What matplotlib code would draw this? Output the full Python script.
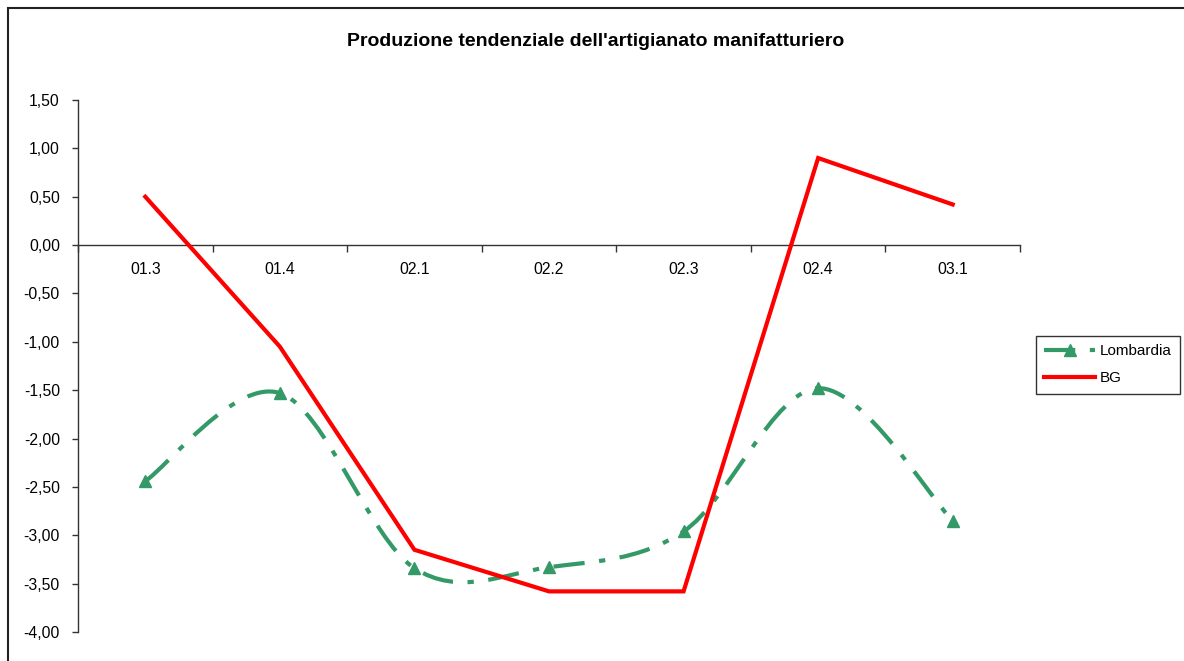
import matplotlib.pyplot as plt
from matplotlib.lines import Line2D
from matplotlib.path import Path
from matplotlib.patches import PathPatch, Rectangle
from matplotlib.ticker import FixedLocator, FuncFormatter

plt.rcParams['font.family'] = ['Liberation Sans', 'DejaVu Sans']

# quarters and tendential production values
quarters = ['01.3', '01.4', '02.1', '02.2', '02.3', '02.4', '03.1']
lombardia = [-2.44, -1.53, -3.34, -3.33, -2.96, -1.48, -2.85]
bg = [0.50, -1.05, -3.15, -3.58, -3.58, 0.90, 0.42]

GREEN = '#339966'
RED = '#ff0000'
green_dash = (0, (7.5, 3.5, 1.5, 3.5))


def smooth_path(xs, ys):
    # bezier path through the points, like a spreadsheet "smoothed line"
    pts = list(zip(xs, ys))
    n = len(pts)
    verts = [pts[0]]
    codes = [Path.MOVETO]
    for i in range(n - 1):
        p0 = pts[max(i - 1, 0)]
        p1 = pts[i]
        p2 = pts[i + 1]
        p3 = pts[min(i + 2, n - 1)]
        c1 = (p1[0] + (p2[0] - p0[0]) / 6, p1[1] + (p2[1] - p0[1]) / 6)
        c2 = (p2[0] - (p3[0] - p1[0]) / 6, p2[1] - (p3[1] - p1[1]) / 6)
        verts += [c1, c2, p2]
        codes += [Path.CURVE4] * 3
    return Path(verts, codes)


fig = plt.figure(figsize=(11.84, 6.61), dpi=100)
W, H = 1184, 661
ax = fig.add_axes([78 / W, 1 - 632 / H, (1020 - 78) / W, (632 - 100) / H])

x = list(range(len(quarters)))

# Lombardia: smoothed dash-dot line with triangle markers
ax.add_patch(PathPatch(smooth_path(x, lombardia), fill=False, edgecolor=GREEN,
                       lw=3, linestyle=green_dash, capstyle='butt', zorder=2))
ax.plot(x, lombardia, linestyle='none', marker='^', markersize=8.5,
        color=GREEN, zorder=3)

# BG: plain red line
ax.plot(x, bg, color=RED, lw=3, solid_joinstyle='miter', zorder=4)

ax.set_xlim(-0.5, len(quarters) - 0.5)
ax.set_ylim(-4, 1.5)

ax.spines['top'].set_visible(False)
ax.spines['right'].set_visible(False)
ax.spines['bottom'].set_position(('data', 0))
for s in ('left', 'bottom'):
    ax.spines[s].set_color('#333333')
    ax.spines[s].set_linewidth(1)

ax.set_yticks([1.5 - 0.5 * i for i in range(12)])
ax.yaxis.set_major_formatter(FuncFormatter(lambda v, p: f'{v:.2f}'.replace('.', ',')))
ax.tick_params(axis='y', direction='out', length=4, width=1, pad=9,
               labelsize=11.3, color='#333333')

ax.set_xticks(x)
ax.set_xticklabels(quarters)
ax.xaxis.set_minor_locator(FixedLocator([i - 0.5 for i in range(len(quarters) + 1)]))
ax.tick_params(axis='x', which='major', length=0, pad=12, labelsize=11.3)
ax.tick_params(axis='x', which='minor', direction='out', length=5, width=1,
               color='#333333')

fig.text(596 / W, 1 - 41 / H, "Produzione tendenziale dell'artigianato manifatturiero",
         ha='center', va='center', fontsize=14, fontweight='bold')

handles = [
    Line2D([], [], color=GREEN, lw=3, linestyle=green_dash, marker='^',
           markersize=8.5, dash_capstyle='butt'),
    Line2D([], [], color=RED, lw=3),
]
leg = fig.legend(handles, ['Lombardia', 'BG'], loc='upper left',
                 bbox_to_anchor=(1036 / W, 1 - 336 / H), borderaxespad=0,
                 fancybox=False, fontsize=11, handlelength=3.3,
                 handletextpad=0.3, labelspacing=0.85, borderpad=0.55)
leg.get_frame().set_edgecolor('black')
leg.get_frame().set_linewidth(1)

# outer chart border
fig.patches.append(Rectangle((8 / W, -0.1), 1.2, 1.1 - 8 / H, transform=fig.transFigure,
                             fill=False, edgecolor='#222222', lw=1.5))

fig.savefig('out.png', dpi=100)
